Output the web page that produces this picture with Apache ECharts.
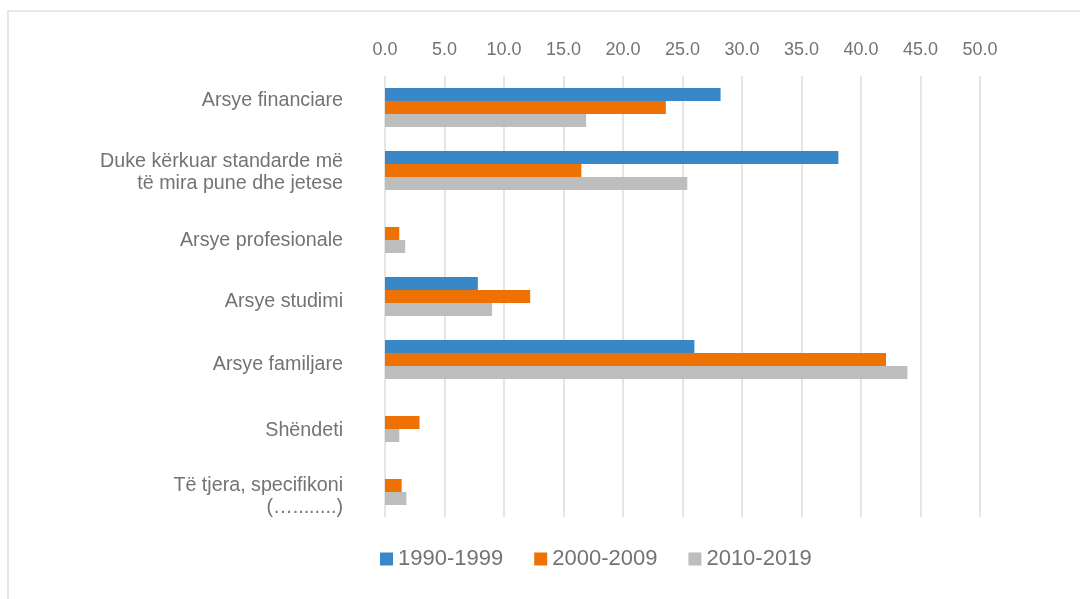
<!DOCTYPE html>
<html>
<head>
<meta charset="utf-8">
<script src="https://cdn.jsdelivr.net/npm/echarts@6/dist/echarts.min.js"></script>
<style>
    html, body { margin: 0; padding: 0; background: #fff; }
    #bar-chart { position: absolute; left: 0; top: 0; width: 1080px; height: 599px; }
    .frame { position: absolute; left: 7px; top: 10px; right: 0; bottom: 0;
             border-left: 2px solid #e8e8e8; border-top: 2px solid #e8e8e8; pointer-events: none; }
</style>
</head>
<body>
<div id="bar-chart"></div>
<div class="frame"></div>
<script>
    // kategorite (nga lart poshte)
    let categories = [
        'Arsye financiare',
        'Duke kërkuar standarde më\ntë mira pune dhe jetese',
        'Arsye profesionale',
        'Arsye studimi',
        'Arsye familjare',
        'Shëndeti',
        'Të tjera, specifikoni\n(…........)'
    ];
    let seriesNames = ['1990-1999', '2000-2009', '2010-2019'];
    let v1990 = [28.2, 38.1, 0, 7.8, 26.0, 0, 0];
    let v2000 = [23.6, 16.5, 1.2, 12.2, 42.1, 2.9, 1.4];
    let v2010 = [16.9, 25.4, 1.7, 9.0, 43.9, 1.2, 1.8];
    let colors = ['#3a87c8', '#ee7203', '#bdbdbd'];
    // zhvendosja vertikale e etiketave (px), si ne origjinal
    let labelShift = [-7, 2, 7, 5, 5.5, 8.5, 11];

    let myChart = echarts.init(document.getElementById('bar-chart'));
    let font = '"Liberation Sans", Arial, sans-serif';
    let allValues = [v1990, v2000, v2010];
    let textColor = '#737373';

    let rich = {};
    labelShift.forEach(function (d, i) {
        rich['s' + i] = {
            fontSize: 19.7,
            lineHeight: 22,
            color: textColor,
            fontFamily: font,
            padding: d >= 0 ? [2 * d, 0, 0, 0] : [0, 0, -2 * d, 0]
        };
    });

    let option = {
        backgroundColor: 'transparent',
        animation: false,
        textStyle: { fontFamily: font },
        legend: {
            data: seriesNames,
            left: 375,
            top: 543,
            itemWidth: 13,
            itemHeight: 13,
            itemGap: 31,
            icon: 'rect',
            textStyle: { fontSize: 22, color: textColor, fontFamily: font }
        },
        grid: {
            left: 385,
            right: 100,
            top: 76,
            bottom: 82
        },
        xAxis: {
            type: 'value',
            position: 'top',
            min: 0,
            max: 50,
            interval: 5,
            axisLine: { show: false },
            axisTick: { show: false },
            axisLabel: {
                margin: 17,
                fontSize: 18,
                color: textColor,
                fontFamily: font,
                formatter: function (v) { return v.toFixed(1); }
            },
            splitLine: { lineStyle: { color: '#dcdcdc', width: 1.5 } }
        },
        yAxis: {
            type: 'category',
            inverse: true,
            data: categories,
            axisLine: { show: false },
            axisTick: { show: false },
            axisLabel: {
                margin: 42,
                align: 'right',
                rich: rich,
                formatter: function (value, index) {
                    return value.split('\n').map(function (line) {
                        return '{s' + index + '|' + line + '}';
                    }).join('\n');
                }
            }
        },
        series: seriesNames.map(function (name, i) {
            return {
                name: name,
                type: 'bar',
                data: allValues[i],
                barGap: 0,
                barCategoryGap: '38%',
                itemStyle: { color: colors[i] }
            };
        })
    };
    myChart.setOption(option);
</script>
</body>
</html>
